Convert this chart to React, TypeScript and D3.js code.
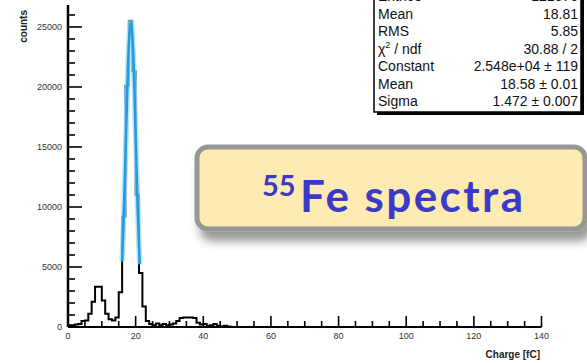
import { useEffect, useRef } from 'react'
import * as d3 from 'd3'

// histogram: 1 fC bins starting at 0 fC
const binCounts = [
  150, 150, 200, 250, 500, 550, 1100, 2100, 3350, 3350,
  2200, 1100, 650, 550, 800, 2900, 9200, 20100, 25500, 21300,
  11000, 4500, 1700, 500, 250, 150, 300, 150, 250, 150,
  200, 300, 500, 750, 800, 800, 800, 750, 350, 200,
  250, 100, 150, 250, 100, 50, 100, 50, 0, 0,
]

// gaussian fit curve
const fitCharge = [16.0, 16.5, 17.0, 17.5, 18.0, 18.58, 19.2, 19.7, 20.2, 20.7, 21.2]
const fitCounts = [5480, 9380, 14320, 19470, 23580, 25480, 23320, 19080, 13900, 9030, 5230]

const xTicks = [0, 20, 40, 60, 80, 100, 120, 140]
const yTicks = [0, 5000, 10000, 15000, 20000, 25000]

const statLabels = ['Entries', 'Mean', 'RMS', 'chi2', 'Constant', 'Mean', 'Sigma']
const statValues = ['121576', '18.81', '5.85', '30.88 / 2', '2.548e+04 \u00b1 119', '18.58 \u00b1 0.01', '1.472 \u00b1 0.007']

export default function App() {
  const svgRef = useRef<SVGSVGElement>(null)

  useEffect(() => {
    if (!svgRef.current) return
    const svg = d3.select(svgRef.current)
    svg.selectAll('*').remove()

    const x = d3.scaleLinear().domain([0, 140]).range([68, 541.5])
    const y = d3.scaleLinear().domain([0, 26830]).range([327, 5])
    const font = 'Liberation Sans, Arial, sans-serif'

    // histogram outline
    const steps: [number, number][] = binCounts.map((c, i) => [i, c])
    steps.push([binCounts.length, 0])
    const stepLine = d3
      .line<[number, number]>()
      .x((d) => x(d[0]))
      .y((d) => y(d[1]))
      .curve(d3.curveStepAfter)
    svg.append('path')
      .datum([[0, 0] as [number, number], ...steps])
      .attr('d', stepLine)
      .attr('fill', 'none')
      .attr('stroke', '#000')
      .attr('stroke-width', 2)
      .attr('stroke-linejoin', 'miter')

    // fit line
    const fitLine = d3
      .line<number>()
      .x((_, i) => x(fitCharge[i]))
      .y((d) => y(d))
      .curve(d3.curveCatmullRom)
    svg.append('path')
      .datum(fitCounts)
      .attr('d', fitLine)
      .attr('fill', 'none')
      .attr('stroke', '#a6dcf8')
      .attr('stroke-width', 5.5)
      .attr('opacity', 0.8)
    svg.append('path')
      .datum(fitCounts)
      .attr('d', fitLine)
      .attr('fill', 'none')
      .attr('stroke', '#1f9de2')
      .attr('stroke-width', 2.5)

    // axes
    svg.append('line')
      .attr('x1', x(0)).attr('x2', x(140))
      .attr('y1', y(0)).attr('y2', y(0))
      .attr('stroke', '#000').attr('stroke-width', 2)
    svg.append('line')
      .attr('x1', x(0)).attr('x2', x(0))
      .attr('y1', y(0)).attr('y2', y(26830))
      .attr('stroke', '#000').attr('stroke-width', 2.5)

    // x ticks (major every 20, minor every 5)
    d3.range(0, 141, 5).forEach((v) => {
      const major = v % 20 === 0
      svg.append('line')
        .attr('x1', x(v)).attr('x2', x(v))
        .attr('y1', y(0)).attr('y2', y(0) - (major ? 11 : 6))
        .attr('stroke', '#000').attr('stroke-width', 1.6)
    })
    xTicks.forEach((v) => {
      svg.append('text')
        .attr('x', x(v)).attr('y', 339)
        .attr('text-anchor', 'middle')
        .attr('font-family', font).attr('font-size', '9px')
        .attr('fill', '#333')
        .text(v)
    })

    // y ticks (major every 5000, minor every 1000)
    d3.range(0, 26001, 1000).forEach((v) => {
      const major = v % 5000 === 0
      svg.append('line')
        .attr('x1', x(0)).attr('x2', x(0) + (major ? 14 : 7))
        .attr('y1', y(v)).attr('y2', y(v))
        .attr('stroke', '#000').attr('stroke-width', 1.6)
    })
    yTicks.forEach((v) => {
      svg.append('text')
        .attr('x', 62).attr('y', y(v) + 3)
        .attr('text-anchor', 'end')
        .attr('font-family', font).attr('font-size', '9px')
        .attr('fill', '#333')
        .text(v)
    })

    // axis titles
    svg.append('text')
      .attr('transform', 'translate(27,10) rotate(-90)')
      .attr('text-anchor', 'end')
      .attr('font-family', font).attr('font-size', '10px').attr('font-weight', 'bold')
      .attr('fill', '#222')
      .text('counts')
    svg.append('text')
      .attr('x', 540).attr('y', 358)
      .attr('text-anchor', 'end')
      .attr('font-family', font).attr('font-size', '10px').attr('font-weight', 'bold')
      .attr('fill', '#222')
      .text('Charge [fC]')

    // stats box
    svg.append('rect')
      .attr('x', 377).attr('y', -20).attr('width', 207).attr('height', 135)
      .attr('fill', '#000')
    svg.append('rect')
      .attr('x', 374).attr('y', -20).attr('width', 207).attr('height', 132)
      .attr('fill', '#fff').attr('stroke', '#000').attr('stroke-width', 1.5)
    statLabels.forEach((lab, i) => {
      const ty = -4 + i * 17.5 + 5
      const t = svg.append('text')
        .attr('x', 378).attr('y', ty)
        .attr('font-family', font).attr('font-size', '14px')
        .attr('fill', '#111')
      if (lab === 'chi2') {
        t.append('tspan').text('\u03c7')
        t.append('tspan').attr('font-size', '9px').attr('dy', -6).text('2')
        t.append('tspan').attr('dy', 6).text(' / ndf')
      } else {
        t.text(lab)
      }
      svg.append('text')
        .attr('x', 578).attr('y', ty)
        .attr('text-anchor', 'end')
        .attr('font-family', font).attr('font-size', '14px')
        .attr('fill', '#111')
        .text(statValues[i])
    })

    // label box
    const defs = svg.append('defs')
    const filt = defs.append('filter').attr('id', 'shadow')
      .attr('x', '-10%').attr('y', '-20%').attr('width', '130%').attr('height', '160%')
    filt.append('feDropShadow')
      .attr('dx', 5).attr('dy', 10).attr('stdDeviation', 5)
      .attr('flood-color', '#000').attr('flood-opacity', 0.4)
    svg.append('rect')
      .attr('x', 197).attr('y', 147).attr('width', 388).attr('height', 82)
      .attr('rx', 11)
      .attr('fill', '#fdebb2').attr('stroke', '#979797').attr('stroke-width', 5)
      .attr('filter', 'url(#shadow)')
    const labelFont = 'Comic Sans MS, Lato, sans-serif'
    svg.append('text')
      .attr('x', 262).attr('y', 196)
      .attr('font-family', labelFont).attr('font-size', '29px').attr('font-weight', 'bold')
      .attr('fill', '#3a3ac6')
      .text('55')
    svg.append('text')
      .attr('x', 300).attr('y', 212)
      .attr('font-family', labelFont).attr('font-size', '44px').attr('font-weight', 'bold')
      .attr('fill', '#3a3ac6')
      .attr('textLength', 223).attr('lengthAdjust', 'spacing')
      .text('Fe spectra')
  }, [])

  return (
    <div style={{ position: 'absolute', left: 0, top: 0 }}>
      <svg ref={svgRef} width={587} height={363} style={{ display: 'block', background: '#fff' }}></svg>
    </div>
  )
}
